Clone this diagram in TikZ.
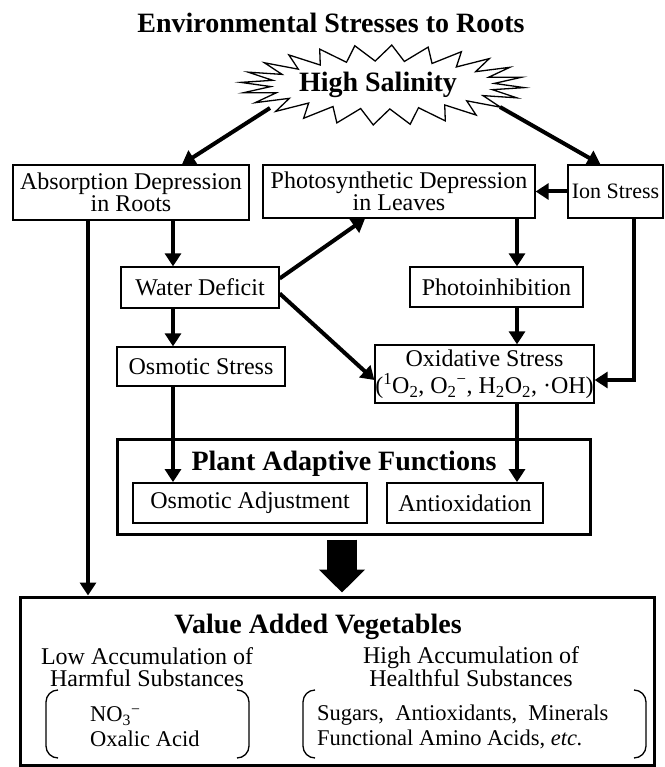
\documentclass[tikz,border=0pt]{standalone}
\usepackage{fontspec}
\setmainfont{Liberation Serif}
\usepackage{tikz}
\usetikzlibrary{arrows.meta}

\begin{document}
\begin{tikzpicture}[x=1pt,y=-1pt,
  box/.style={rectangle,draw,line width=1.3pt,inner sep=0pt,align=center,font=\fontsize{24}{22.5}\selectfont},
  link/.style={-{Triangle[length=13pt,width=16pt]},line width=4pt,line join=miter},
  heading/.style={inner sep=0pt,anchor=base,font=\fontsize{28}{28}\selectfont\bfseries},
  group/.style={inner sep=0pt,align=center,font=\fontsize{24}{22}\selectfont},
  items/.style={inner sep=0pt,anchor=west,align=left,font=\fontsize{22.5}{25}\selectfont},
  bracket/.style={line width=1.3pt,rounded corners=12pt}]
\useasboundingbox (0,0) rectangle (664,767);
\coordinate (colA) at (173,0);
\coordinate (colB) at (517,0);
\coordinate (colC) at (88,0);
\coordinate (colD) at (634,0);
\coordinate (colE) at (342,0);

\node[heading] (title) at (331,33) {Environmental Stresses to Roots};
% starburst round the salinity label
\draw[line width=1.3pt,line join=miter] plot[samples at={0,...,47},variable=\k]
  ({382.5+(142-30*isodd(\k))*cos(\k*7.5+3.75)},{85+(40-16*isodd(\k))*sin(\k*7.5+3.75)}) -- cycle;
\node[inner sep=0pt,font=\fontsize{28}{28}\selectfont\bfseries,minimum width=250pt,minimum height=60pt] (sal) at (378,85) {High Salinity};

\node[box,minimum width=236pt,minimum height=55pt] (absorb) at (131,192.5) {Absorption Depression\\in Roots};
\node[box,minimum width=272pt,minimum height=53pt] (photo) at (399,191.5) {Photosynthetic Depression\\in Leaves};
\node[box,minimum width=95pt,minimum height=53pt,font=\fontsize{22}{22}\selectfont] (ion) at (615.5,191.5) {Ion Stress};
\node[box,minimum width=158pt,minimum height=41pt] (water) at (200,287.5) {Water Deficit};
\node[box,minimum width=168pt,minimum height=39pt] (osmo) at (201,366.5) {Osmotic Stress};
\node[box,minimum width=173pt,minimum height=40pt] (photoinh) at (496.5,287) {Photoinhibition};
\node[box,minimum width=219pt,minimum height=58pt,font=\fontsize{24}{27}\selectfont] (oxid) at (484.5,374) {Oxidative Stress\\(\textsuperscript{1}O\textsubscript{2}, O\textsubscript{2}\textsuperscript{−}, H\textsubscript{2}O\textsubscript{2}, ·OH)};

\node[box,line width=3pt,minimum width=473pt,minimum height=95pt] (plant) at (353.5,486.5) {};
\node[heading] (plantlbl) at (344,470) {Plant Adaptive Functions};
\node[box,line width=1.8pt,minimum width=234pt,minimum height=40pt] (osadj) at (250,503) {Osmotic Adjustment};
\node[box,line width=1.8pt,minimum width=156pt,minimum height=40pt] (antiox) at (465,503) {Antioxidation};

\node[box,line width=3pt,minimum width=634pt,minimum height=168pt] (value) at (337,681) {};
\node[heading] (valuelbl) at (318,633) {Value Added Vegetables};
\node[group] (lowlbl) at (147,667) {Low Accumulation of\\Harmful Substances};
\node[group] (highlbl) at (471,667) {High Accumulation of\\Healthful Substances};
\node[items] (lowitems) at (90,727) {NO\textsubscript{3}\textsuperscript{−}\\Oxalic Acid};
\node[items] (highitems) at (317,727) {Sugars,\ \ Antioxidants,\ \ Minerals\\Functional Amino Acids, \textit{etc.}};
\draw[bracket] (58,690) -- (46,690) -- (46,758) -- (58,758);
\draw[bracket] (237,690) -- (249,690) -- (249,758) -- (237,758);
\draw[bracket] (315,690) -- (303,690) -- (303,758) -- (315,758);
\draw[bracket] (634,690) -- (646,690) -- (646,758) -- (634,758);

% connectors
\draw[link] ([xshift=-108pt,yshift=-23pt]sal.center) -- ([xshift=51pt]absorb.north);
\draw[link] ([xshift=122pt,yshift=-22pt]sal.center) -- ([xshift=-15pt]ion.north);
\draw[link] (ion.west) -- (photo.east);
\draw[link] (absorb.south -| colA) -- (water.north -| colA);
\draw[link] (water.south -| colA) -- (osmo.north -| colA);
\draw[link] (osmo.south -| colA) -- (osadj.north -| colA);
\draw[link] ([yshift=9pt]water.east) -- ([xshift=-34pt]photo.south);
\draw[link] ([yshift=-6pt]water.east) -- ([yshift=-6pt]oxid.west);
\draw[link] (photo.south -| colB) -- (photoinh.north -| colB);
\draw[link] (photoinh.south -| colB) -- (oxid.north -| colB);
\draw[link] (oxid.south -| colB) -- (antiox.north -| colB);
\draw[link] (ion.south -| colD) |- ([yshift=-6pt]oxid.east);
\draw[link] (absorb.south -| colC) -- (value.north -| colC);
\draw[line width=30pt,-{Triangle[length=23pt,width=45pt]}] ([yshift=-4pt]plant.south -| colE) -- ([yshift=3pt]value.north -| colE);
\end{tikzpicture}
\end{document}
